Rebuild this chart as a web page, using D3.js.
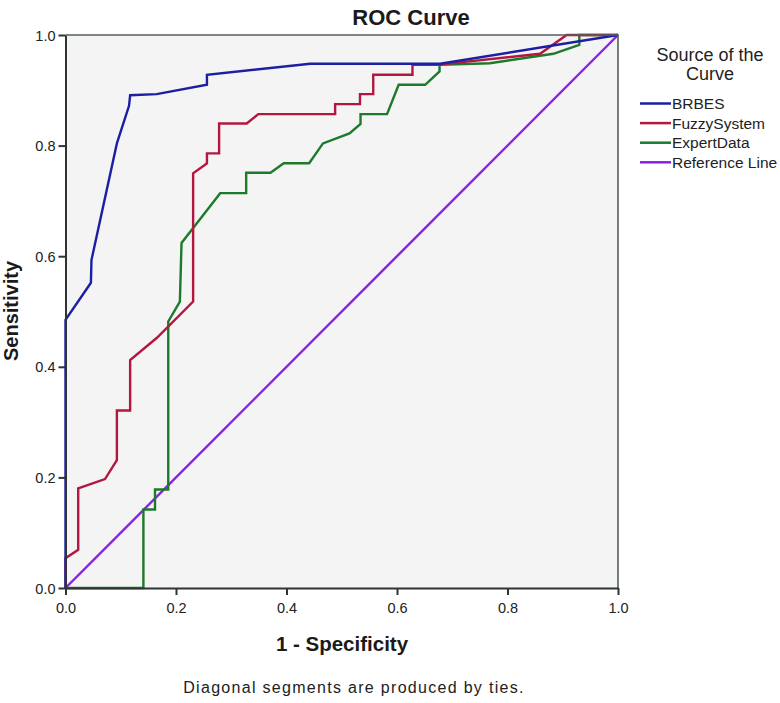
<!DOCTYPE html>
<html><head><meta charset="utf-8">
<script src="https://cdn.jsdelivr.net/npm/d3@7"></script>
<style>body{margin:0;background:#fff}svg{display:block}text{font-family:"Liberation Sans",Arial,sans-serif}</style>
</head><body><svg id="c" width="780" height="703"></svg>
<script>
const brbesX = [0,0,0.046,0.047,0.093,0.115,0.117,0.165,0.256,0.256,0.443,0.678,1];
const brbesY = [0,0.485,0.552,0.593,0.804,0.872,0.891,0.893,0.91,0.928,0.948,0.948,1];
const fuzzyX = [0,0,0.023,0.023,0.0715,0.093,0.093,0.117,0.117,0.165,0.231,0.231,0.252,0.256,0.256,0.278,0.278,0.328,0.349,0.488,0.488,0.533,0.533,0.557,0.557,0.628,0.628,0.672,0.859,0.907,1];
const fuzzyY = [0,0.054,0.069,0.18,0.197,0.231,0.321,0.321,0.412,0.452,0.518,0.75,0.765,0.768,0.786,0.786,0.84,0.84,0.857,0.857,0.875,0.875,0.893,0.893,0.928,0.928,0.946,0.946,0.966,1,1];
const expertX = [0,0.141,0.141,0.162,0.162,0.186,0.186,0.207,0.21,0.28,0.327,0.327,0.371,0.395,0.441,0.466,0.514,0.534,0.534,0.582,0.603,0.651,0.677,0.677,0.768,0.883,0.93,0.93,1];
const expertY = [0,0,0.142,0.142,0.178,0.178,0.482,0.518,0.624,0.714,0.714,0.751,0.751,0.768,0.768,0.804,0.822,0.839,0.857,0.857,0.91,0.91,0.934,0.946,0.949,0.966,0.982,1,1];
const refX = [0,1];
const refY = [0,1];
const seriesNames = ["BRBES","FuzzySystem","ExpertData","Reference Line"];
const seriesColors = ["#1c1fa3","#b3173f","#1d7a2a","#8a1fe6"];
const tickValues = [0,0.2,0.4,0.6,0.8,1.0];

const svg = d3.select("#c");
const L=65.5, R=618, T=35, B=588;
const x = d3.scaleLinear().domain([0,1]).range([L,R]);
const y = d3.scaleLinear().domain([0,1]).range([B,T]);

svg.append("rect").attr("x",L).attr("y",T).attr("width",R-L).attr("height",B-T).attr("fill","#f4f4f4");

const data = [
  d3.zip(brbesX,brbesY), d3.zip(fuzzyX,fuzzyY), d3.zip(expertX,expertY), d3.zip(refX,refY)
];
const line = d3.line().x(d=>x(d[0])).y(d=>y(d[1]));
[3,2,1,0].forEach(i=>{
  svg.append("path").attr("d",line(data[i])).attr("fill","none")
    .attr("stroke",seriesColors[i]).attr("stroke-width",2.4).attr("stroke-linejoin","miter");
});

svg.append("path").attr("d",`M${L},${T}H${R}V${B}`).attr("fill","none").attr("stroke","#555e5e").attr("stroke-width",1.6);

const xAxis = d3.axisBottom(x).tickValues(tickValues).tickFormat(d3.format(".1f")).tickSize(7).tickSizeOuter(0);
const yAxis = d3.axisLeft(y).tickValues(tickValues).tickFormat(d3.format(".1f")).tickSize(7).tickSizeOuter(0);
const gx = svg.append("g").attr("transform",`translate(0,${B})`).call(xAxis);
const gy = svg.append("g").attr("transform",`translate(${L},0)`).call(yAxis);
[gx,gy].forEach(g=>{
  g.select(".domain").attr("stroke","#2e3333").attr("stroke-width",2);
  g.selectAll(".tick line").attr("stroke","#2e3333").attr("stroke-width",2);
  g.selectAll(".tick text").attr("fill","#222").attr("font-size",14.5).attr("font-family","Liberation Sans, Arial, sans-serif");
});
gx.selectAll(".tick text").attr("dy","1.0em");
gy.selectAll(".tick text").attr("x",-10).attr("dy","0.35em");

svg.append("text").attr("x",411).attr("y",25).attr("text-anchor","middle").attr("font-size",22).attr("font-weight","bold").attr("fill","#1a1a1a").text("ROC Curve");
svg.append("text").attr("x",342).attr("y",651).attr("text-anchor","middle").attr("font-size",20.5).attr("font-weight","bold").attr("fill","#1a1a1a").text("1 - Specificity");
svg.append("text").attr("transform",`translate(18,311) rotate(-90)`).attr("text-anchor","middle").attr("font-size",20).attr("font-weight","bold").attr("fill","#1a1a1a").text("Sensitivity");
svg.append("text").attr("x",354).attr("y",693).attr("text-anchor","middle").attr("font-size",16).attr("letter-spacing",1.3).attr("fill","#222").text("Diagonal segments are produced by ties.");

svg.append("text").attr("x",710).attr("y",61).attr("text-anchor","middle").attr("font-size",18).attr("fill","#222").text("Source of the");
svg.append("text").attr("x",710).attr("y",80).attr("text-anchor","middle").attr("font-size",18).attr("fill","#222").text("Curve");
const lg = svg.append("g");
seriesNames.forEach((n,i)=>{
  const yy = 103.5 + i*19.6;
  lg.append("line").attr("x1",640).attr("x2",671).attr("y1",yy).attr("y2",yy).attr("stroke",seriesColors[i]).attr("stroke-width",2.5);
  lg.append("text").attr("x",672).attr("y",yy).attr("dy","0.36em").attr("font-size",15.5).attr("fill","#222").text(n);
});
</script></body></html>
